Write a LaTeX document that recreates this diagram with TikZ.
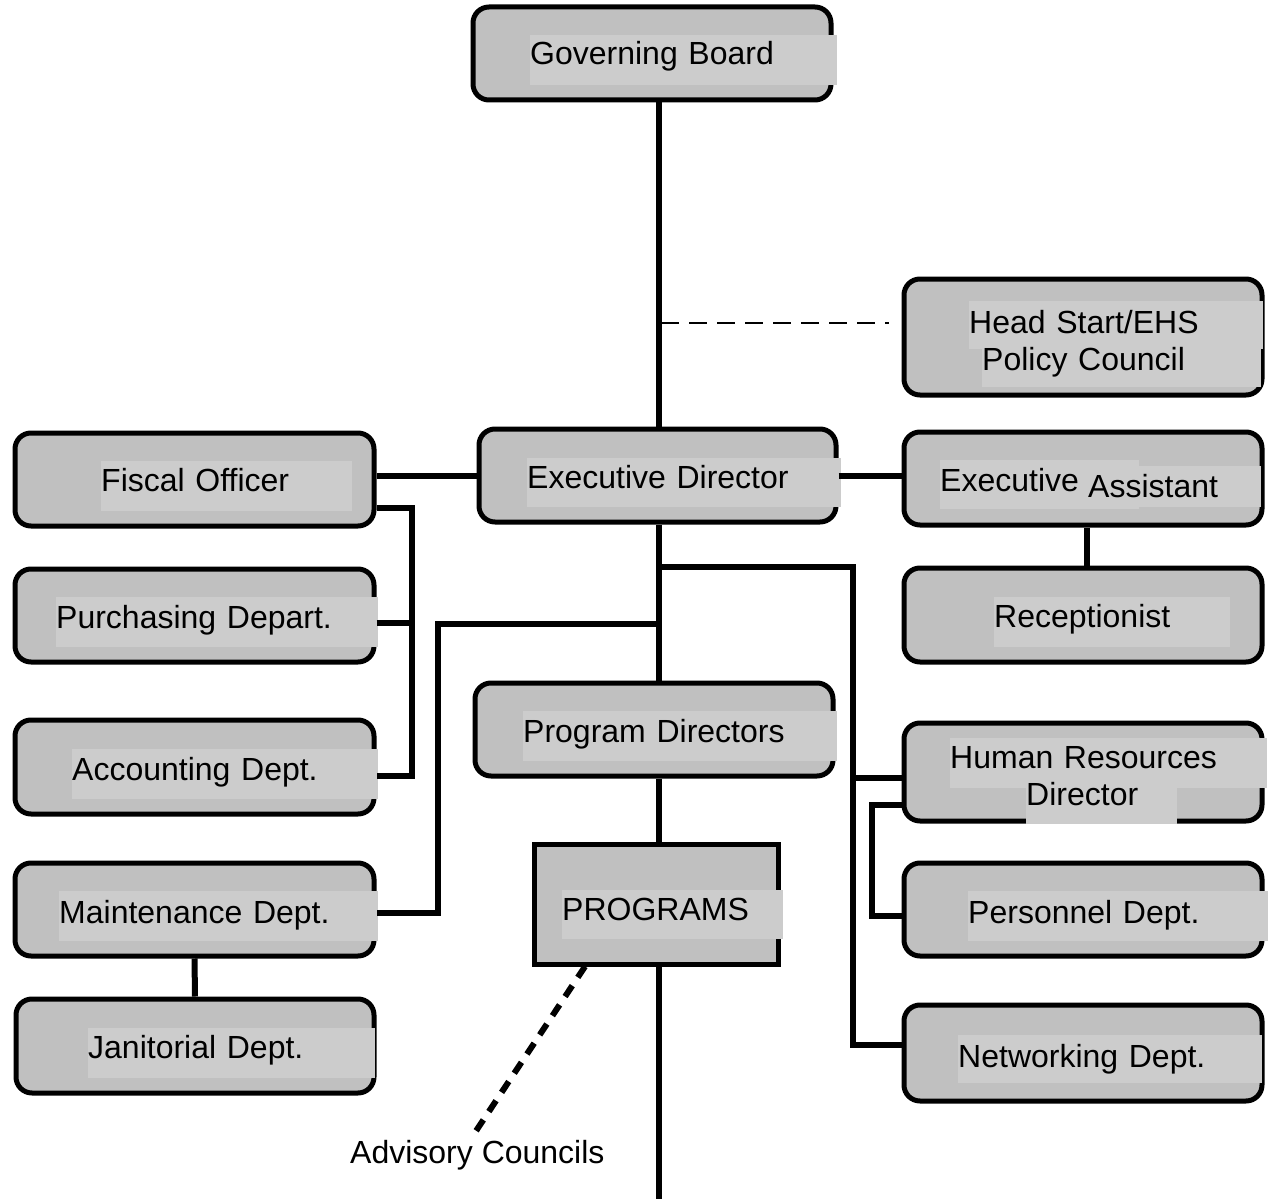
\documentclass[tikz,border=0pt]{standalone}
\usepackage{fontspec}
\setmainfont{Liberation Sans}
\usetikzlibrary{calc}
\definecolor{boxc}{HTML}{C0C0C0}
\definecolor{hlc}{HTML}{CCCCCC}
\begin{document}
\begin{tikzpicture}[x=1pt,y=-1pt,
  box/.style={draw=black, line width=5pt, fill=boxc, rounded corners=16pt, inner sep=0pt, minimum width=358pt, minimum height=93pt},
  sqbox/.style={draw=black, line width=5pt, fill=boxc, inner sep=0pt},
  lbl/.style={fill=hlc, inner sep=0pt, anchor=west, align=left, font=\fontsize{32}{38}\selectfont, text height=22pt, text depth=11pt},
  conn/.style={line width=6pt},
  pol/.style={line width=2pt, dash pattern=on 18pt off 10pt},
  adv/.style={line width=6pt, dash pattern=on 13pt off 10pt},
]
\useasboundingbox[fill=white] (0,0) rectangle (1270,1199);

% boxes
\node[box] (gb) at (652,53.5) {};
\node[box, minimum height=116pt] (hs) at (1083,337) {};
\node[box, minimum width=357pt] (ed) at (657.5,475.5) {};
\node[box, minimum width=359pt] (fo) at (194.5,479.5) {};
\node[box] (ea) at (1083,478.5) {};
\node[box, minimum width=359pt] (pu) at (194.5,615.5) {};
\node[box, minimum height=94pt] (rc) at (1083,615) {};
\node[box] (pr) at (654,729.5) {};
\node[box, minimum width=359pt, minimum height=94pt] (ac) at (194.5,767) {};
\node[box, minimum height=98pt] (hr) at (1083,772) {};
\node[box, minimum width=359pt] (md) at (194.5,909.5) {};
\node[sqbox, minimum width=244pt, minimum height=120pt] (pg) at (656,904) {};
\node[box] (pe) at (1083,909.5) {};
\node[box, minimum height=94pt] (jd) at (195,1046) {};
\node[box, minimum height=96pt] (nd) at (1083,1053) {};

% labels
\node[lbl, text width=307pt, minimum height=50pt, text depth=12pt] (gbt) at (530,60) {Governing Board};
\node[lbl, text width=294pt, minimum height=48pt, text depth=6pt] (hst1) at (969,325) {Head Start/EHS};
\node[lbl, text width=279pt, minimum height=38pt, text height=16pt, text depth=12pt] (hst2) at (982,368) {Policy Council};
\node[lbl, text width=314pt, minimum height=49pt] (edt) at (527,482.5) {Executive Director};
\node[lbl, text width=251pt, minimum height=50pt] (fot) at (101,486) {Fiscal Officer};
\node[lbl, text width=199pt, minimum height=49pt, text depth=9pt] (eat1) at (940,484.5) {Executive};
\node[lbl, text width=173pt, minimum height=41pt, text depth=1pt] (eat2) at (1088,486.5) {Assistant};
\node[lbl, text width=322pt, minimum height=50pt, text depth=10pt] (put) at (56,622) {Purchasing Depart.};
\node[lbl, text width=236pt, minimum height=50pt, text depth=12pt] (rct) at (994,622) {Receptionist};
\node[lbl, text width=314pt, minimum height=50pt, text depth=10pt] (prt) at (523,736) {Program Directors};
\node[lbl, text width=306pt, minimum height=50pt, text depth=10pt] (act) at (72,774) {Accounting Dept.};
\node[lbl, text width=317pt, minimum height=50pt, text depth=12pt] (hrt1) at (950,763) {Human Resources};
\node[lbl, text width=151pt, minimum height=36pt, text height=16pt, text depth=18pt] (hrt2) at (1026,806) {Director};
\node[lbl, text width=319pt, minimum height=50pt, text depth=8pt] (mdt) at (59,916) {Maintenance Dept.};
\node[lbl, text width=221pt, minimum height=49pt] (pgt) at (562,914.5) {PROGRAMS};
\node[lbl, text width=300pt, minimum height=50pt, text depth=8pt] (pet) at (968,916) {Personnel Dept.};
\node[lbl, text width=287pt, minimum height=50pt, text depth=12pt] (jdt) at (88,1053) {Janitorial Dept.};
\node[lbl, text width=304pt, minimum height=48pt, text depth=6pt] (ndt) at (958,1059) {Networking Dept.};
\node[anchor=base west, inner sep=0pt, font=\fontsize{32}{38}\selectfont] (advl) at (350,1163) {Advisory Councils};

% coordinates
\coordinate (spine) at (659,0);
\coordinate (dk) at (889,323);
\coordinate (bot) at (659,1199);
\coordinate (advtip) at (472,1137);

% connectors
\draw[conn] (gb.south -| spine) -- (ed.north -| spine);
\draw[pol] ([xshift=2pt]spine |- dk) -- (dk);
\draw[conn] (fo.east |- ed.west) -- (ed.west);
\draw[conn] (ed.east) -- (ed.east -| ea.west);
\draw[conn] ([xshift=4pt]ea.south) -- ([xshift=4pt]rc.north);
\draw[conn] (fo.east |- 0,508) -- (412,508) -- (412,776) -- (ac.east |- 0,776);
\draw[conn] (pu.east |- 0,623) -- (412,623);
\draw[conn] (ed.south -| spine) -- (pr.north -| spine);
\draw[conn] (spine |- 0,567) -- (853,567) -- (853,1045) -- (nd.west |- 0,1045);
\draw[conn] (853,778) -- (hr.west |- 0,778);
\draw[conn] (hr.west |- 0,805) -- (872,805) -- (872,916) -- (pe.west |- 0,916);
\draw[conn] (spine |- 0,624) -- (438,624) -- (438,913) -- (md.east |- 0,913);
\draw[conn] (md.south) -- (jd.north);
\draw[conn] (pr.south -| spine) -- (pg.north -| spine);
\draw[conn] (pg.south -| spine) -- (bot);
\draw[adv] ([xshift=-71pt]pg.south) -- (advtip);
\end{tikzpicture}
\end{document}
